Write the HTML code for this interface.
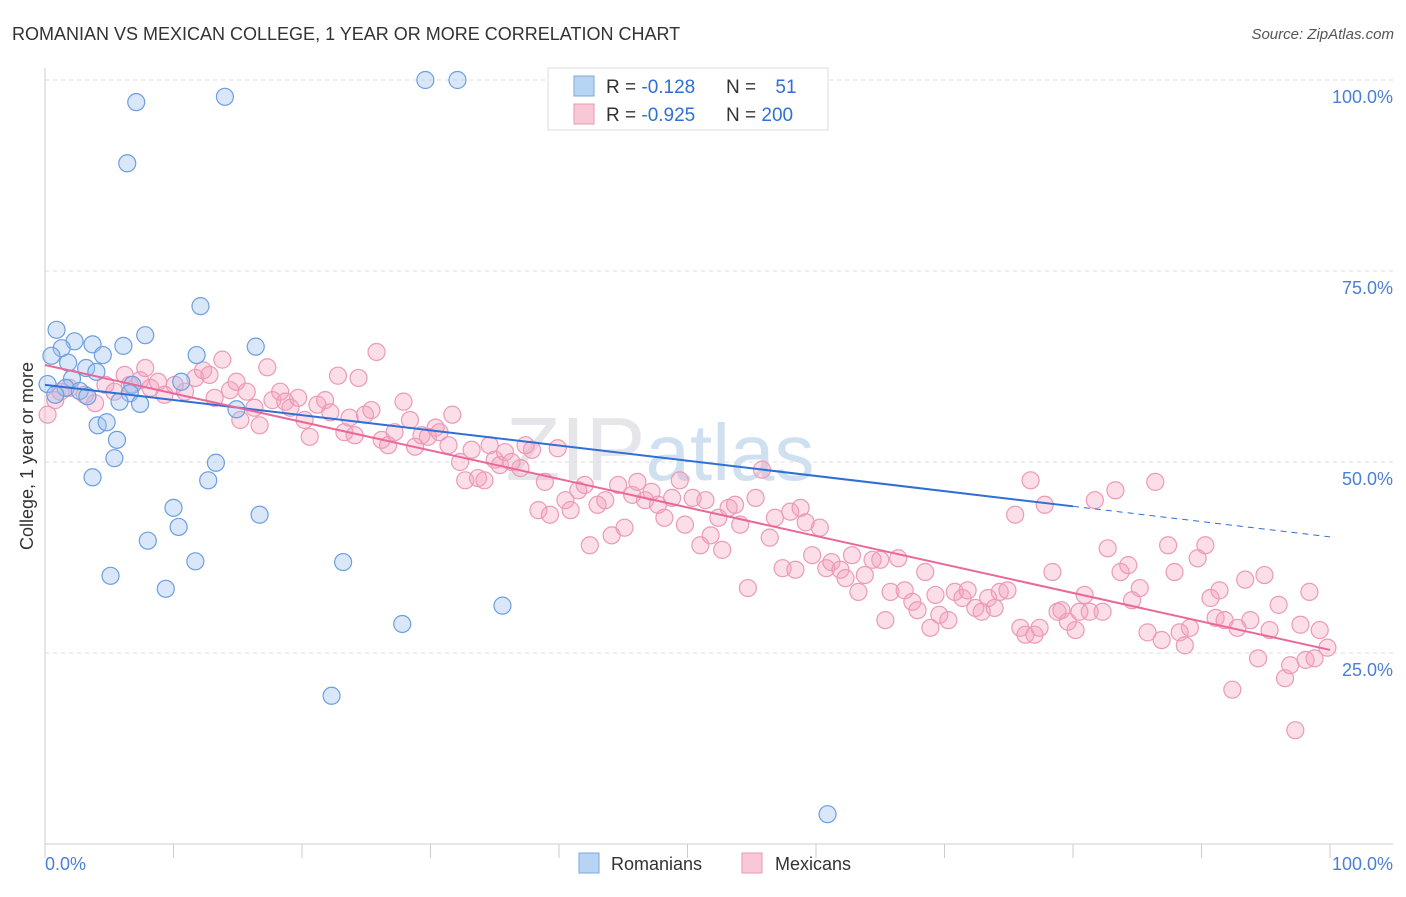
<!DOCTYPE html>
<html><head><meta charset="utf-8"><style>
body{margin:0;background:#fff;font-family:"Liberation Sans",sans-serif;}
svg text{font-family:"Liberation Sans",sans-serif;}
</style></head><body>
<svg id="chart" width="1406" height="892" xmlns="http://www.w3.org/2000/svg">
<text x="12" y="40" font-size="18" fill="#333">ROMANIAN VS MEXICAN COLLEGE, 1 YEAR OR MORE CORRELATION CHART</text>
<text x="1394" y="39" font-size="15" fill="#555" font-style="italic" text-anchor="end">Source: ZipAtlas.com</text>
<text x="660" y="480" font-size="90" fill="#e6e6ea" font-family="Liberation Serif" text-anchor="middle">ZIP<tspan fill="#cfe0f0" font-family="Liberation Sans" font-size="80">atlas</tspan></text>
<g id="grid"></g><g id="axes"></g><g id="marks"></g>
<text transform="translate(33,456) rotate(-90)" font-size="18" fill="#333" text-anchor="middle">College, 1 year or more</text>
<text x="45" y="870" font-size="18" fill="#4a7fd6">0.0%</text>
<text x="1393" y="870" font-size="18" fill="#4a7fd6" text-anchor="end">100.0%</text>
<g>
<rect x="548" y="68" width="280" height="62" fill="#fff" stroke="#ddd"/>
<rect x="574" y="76" width="20" height="20" fill="#b8d4f5" stroke="#7aa8e0"/>
<text x="606" y="93" font-size="19" fill="#333">R = <tspan fill="#2f6fd6">-0.128</tspan></text>
<text x="726" y="93" font-size="19" fill="#333">N = <tspan fill="#2f6fd6" dx="14">51</tspan></text>
<rect x="574" y="104" width="20" height="20" fill="#f9c8d6" stroke="#e79ab3"/>
<text x="606" y="121" font-size="19" fill="#333">R = <tspan fill="#2f6fd6">-0.925</tspan></text>
<text x="726" y="121" font-size="19" fill="#333">N = <tspan fill="#2f6fd6">200</tspan></text>
</g>
<g><rect x="579" y="853" width="20" height="20" fill="#b8d4f5" stroke="#7aa8e0"/><text x="611" y="870" font-size="18" fill="#333">Romanians</text></g>
<g><rect x="742" y="853" width="20" height="20" fill="#f9c8d6" stroke="#e79ab3"/><text x="775" y="870" font-size="18" fill="#333">Mexicans</text></g>
</svg>
<script>
const yTicks=[100,75,50,25];
const yTickLabels=["100.0%","75.0%","50.0%","25.0%"];
const xTicks=[0,10,20,30,40,50,60,70,80,90,100];
const romX=[7.1,14.0,29.6,32.1,6.4,12.1,0.9,7.8,2.3,1.3,3.7,6.1,16.4,11.8,4.5,0.5,1.8,3.2,4.0,2.1,10.6,6.8,0.2,1.6,2.7,3.3,6.6,5.8,7.4,14.9,4.1,4.8,5.6,5.4,13.3,3.7,12.7,10.0,16.7,10.4,8.0,11.7,5.1,9.4,23.2,35.6,27.8,22.3,60.9,0.8,54.1];
const romY=[97.1,97.8,100,100,89.1,70.4,67.3,66.6,65.8,64.9,65.4,65.2,65.1,64.0,64.0,63.9,63.0,62.3,61.8,60.9,60.5,60.1,60.2,59.7,59.3,58.6,59.0,57.9,57.6,56.9,54.8,55.2,52.9,50.5,49.9,48.0,47.6,44.0,43.1,41.5,39.7,37.0,35.1,33.4,36.9,31.2,28.8,19.4,3.9,58.8,99.7];
const mexX=[0.2,0.8,1.2,1.9,3.1,3.9,4.7,5.4,6.2,6.6,7.4,7.8,8.2,8.8,9.3,10.1,10.9,11.7,12.3,12.8,13.2,13.8,14.4,14.9,15.2,15.7,16.3,16.7,17.3,17.7,18.3,18.7,19.1,19.7,20.2,20.6,21.2,21.8,22.2,22.8,23.3,23.7,24.1,24.4,24.9,25.4,25.8,26.2,26.7,27.2,27.9,28.4,28.8,29.3,29.8,30.4,30.7,31.4,31.7,32.3,32.7,33.2,33.7,34.2,34.6,35.0,35.4,35.8,36.3,37.0,37.4,37.9,38.4,38.9,39.3,39.9,40.5,40.9,41.5,42.0,42.4,43.0,43.6,44.1,44.6,45.1,45.7,46.1,46.7,47.2,47.7,48.2,48.8,49.4,49.8,50.4,51.0,51.4,51.8,52.4,52.7,53.2,53.7,54.1,54.7,55.3,55.8,56.4,56.8,57.4,58.0,58.4,58.8,59.2,59.7,60.3,60.8,61.2,61.9,62.3,62.8,63.3,63.8,64.4,65.0,65.4,65.8,66.4,66.9,67.5,67.9,68.5,68.9,69.3,69.6,70.3,70.8,71.4,71.8,72.4,72.9,73.4,73.9,74.3,74.9,75.5,75.9,76.3,76.7,77.0,77.4,77.8,78.4,78.8,79.1,79.6,80.2,80.5,80.9,81.3,81.7,82.3,82.7,83.3,83.7,84.3,84.6,85.2,85.8,86.4,86.9,87.4,87.9,88.3,88.7,89.1,89.7,90.3,90.7,91.1,91.4,91.8,92.4,92.8,93.4,93.8,94.4,94.9,95.3,96.0,96.5,96.9,97.3,97.7,98.1,98.4,98.8,99.2,99.8];
const mexY=[56.2,58.1,59.2,59.7,58.8,57.7,60.1,59.2,61.4,60.1,60.7,62.3,59.7,60.5,58.8,60.1,59.2,61.0,62.0,61.4,58.4,63.4,59.4,60.5,55.5,59.2,57.1,54.8,62.4,58.1,59.2,57.9,57.1,58.4,55.5,53.3,57.5,58.1,56.5,61.3,53.9,55.8,53.5,61.0,56.2,56.8,64.4,52.9,52.2,53.9,57.9,55.5,52.0,53.5,53.3,54.5,53.9,52.2,56.2,50.0,47.6,51.6,47.9,47.6,52.2,50.3,49.6,51.3,50.0,49.2,52.2,51.6,43.7,47.4,43.1,51.8,45.0,43.7,46.3,47.0,39.1,44.4,45.0,40.4,47.0,41.4,45.7,47.4,45.0,46.1,44.4,42.7,45.3,47.6,41.8,45.3,39.1,45.0,40.4,42.7,38.5,44.0,44.4,41.8,33.5,45.3,49.0,40.1,42.7,36.1,43.5,35.9,44.0,42.1,37.8,41.4,36.1,36.9,35.9,34.8,37.8,33.0,35.2,37.2,37.2,29.3,33.0,37.4,33.2,31.7,30.6,35.6,28.3,32.6,30.0,29.3,33.0,32.2,33.2,30.9,30.4,32.2,30.9,33.0,33.2,43.1,28.3,27.4,47.6,27.4,28.3,44.4,35.6,30.4,30.6,29.1,28.0,30.4,32.6,30.4,45.0,30.4,38.7,46.3,35.6,36.5,31.9,33.5,27.7,47.4,26.7,39.1,35.6,27.7,26.0,28.3,37.4,39.1,32.2,29.6,33.2,29.3,20.2,28.3,34.6,29.3,24.3,35.2,28.0,31.3,21.7,23.4,14.9,28.7,24.1,33.0,24.3,28.0,25.7];
const romTrend=[[0,60.1],[80,44.2],[100,40.2]];
const mexTrend=[[0,62.7],[100,25.4]];
const NS="http://www.w3.org/2000/svg";
const X0=45,X1=1330,Y0=844,Y100=80;
function sx(v){return X0+(X1-X0)*v/100;}
function sy(v){return Y0-(Y0-Y100)*v/100;}
function mk(tag,attrs,parent){const e=document.createElementNS(NS,tag);for(const k in attrs)e.setAttribute(k,attrs[k]);document.getElementById(parent).appendChild(e);return e;}
yTicks.forEach((t,i)=>{
 const l=mk('line',{x1:X0,x2:1393,y1:sy(t),y2:sy(t),stroke:'#ddd','stroke-dasharray':'4,4'},'grid');
 
 
 const tx=mk('text',{x:1393,y:sy(t)+23,'font-size':18,fill:'#4a7fd6','text-anchor':'end'},'axes');
 tx.textContent=yTickLabels[i];
 
 
});
const ax=mk('line',{x1:X0,x2:X0,y1:68,y2:Y0,stroke:'#ccc'},'axes');


const bx=mk('line',{x1:X0,x2:1393,y1:Y0,y2:Y0,stroke:'#ccc'},'axes');


xTicks.forEach(t=>{
 const l=mk('line',{x1:sx(t),x2:sx(t),y1:Y0,y2:Y0+14,stroke:'#ccc'},'axes');
 
 
});
for(let i=0;i<Math.min(mexX.length,mexY.length);i++){
 const c=mk('circle',{cx:sx(mexX[i]),cy:sy(mexY[i]),r:8.5,fill:'rgba(244,160,188,0.35)',stroke:'#ec9ab5','stroke-width':1.2},'marks');
 
 
}
for(let i=0;i<Math.min(romX.length,romY.length);i++){
 const c=mk('circle',{cx:sx(romX[i]),cy:sy(romY[i]),r:8.5,fill:'rgba(160,196,240,0.4)',stroke:'#6c9fe0','stroke-width':1.2},'marks');
 
 
}
const rt=mk('line',{x1:sx(romTrend[0][0]),y1:sy(romTrend[0][1]),x2:sx(romTrend[1][0]),y2:sy(romTrend[1][1]),stroke:'#2f6fd6','stroke-width':2},'marks');


const rd=mk('line',{x1:sx(romTrend[1][0]),y1:sy(romTrend[1][1]),x2:sx(romTrend[2][0]),y2:sy(romTrend[2][1]),stroke:'#2f6fd6','stroke-width':1,'stroke-dasharray':'6,5'},'marks');


const mt=mk('line',{x1:sx(mexTrend[0][0]),y1:sy(mexTrend[0][1]),x2:sx(mexTrend[1][0]),y2:sy(mexTrend[1][1]),stroke:'#e8689a','stroke-width':2},'marks');


</script>
</body></html>
